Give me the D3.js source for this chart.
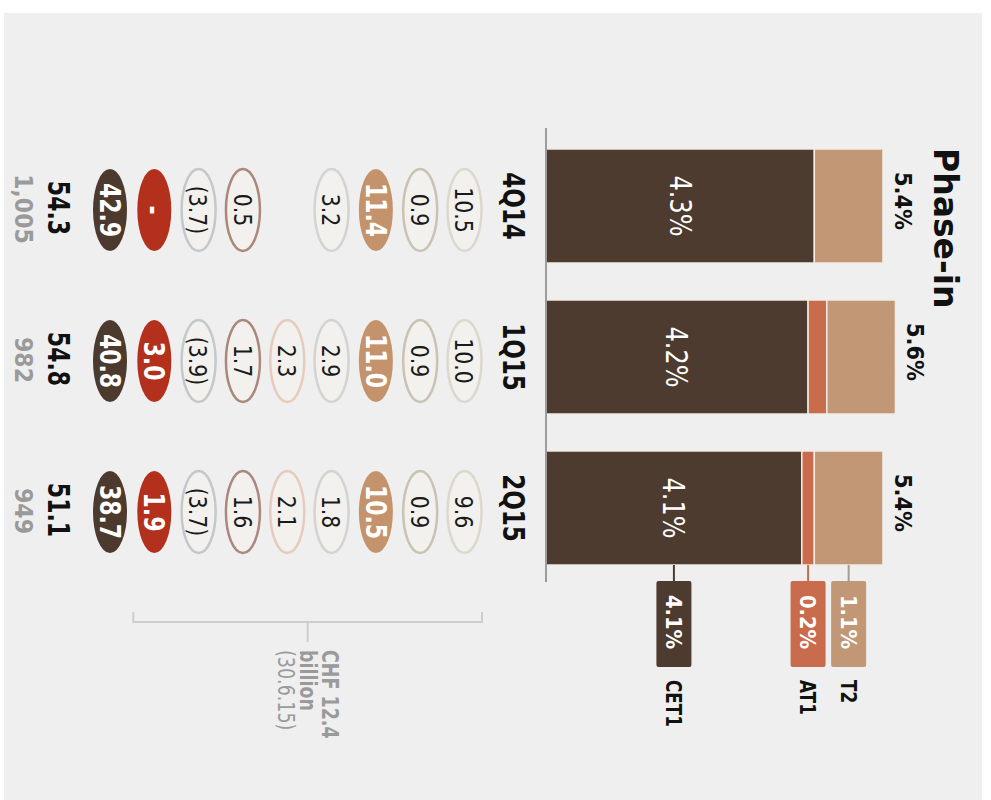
<!DOCTYPE html>
<html><head><meta charset="utf-8">
<script src="https://cdn.jsdelivr.net/npm/d3@7"></script>
<style>html,body{margin:0;padding:0;background:#fff;} svg{display:block;}</style>
</head><body>
<svg id="chart" width="991" height="800"></svg>
<script>
// ---------------- data ----------------
const title = "Phase-in";
const categories = ["4Q14", "1Q15", "2Q15"];
const seriesNames = ["CET1", "AT1", "T2"];
const cet1 = [4.3, 4.2, 4.1];
const at1 = [0.0, 0.3, 0.2];
const t2 = [1.1, 1.1, 1.1];

// table rows (one array per row of ovals, values per quarter)
const rowA = [10.5, 10.0, 9.6];
const rowB = [0.9, 0.9, 0.9];
const rowC = [11.4, 11.0, 10.5];
const rowD = [3.2, 2.9, 1.8];
const rowE = [null, 2.3, 2.1];
const rowF = [0.5, 1.7, 1.6];
const rowG = [-3.7, -3.9, -3.7];
const rowH = ["-", 3.0, 1.9];
const rowI = [42.9, 40.8, 38.7];
const totalsBn = [54.3, 54.8, 51.1];
const exposure = [1005, 982, 949];
const noteLines = ["CHF 12.4", "billion", "(30.6.15)"];

// ---------------- styles ----------------
const FONT = "'DejaVu Sans', Verdana, sans-serif";
const seriesColor = {CET1: "#4d3b2f", AT1: "#c96b4d", T2: "#c19776"};
const connectorColor = {CET1: "#4d3b2f", AT1: "#c96b4d", T2: "#a89a8c"};
const rows = [rowA, rowB, rowC, rowD, rowE, rowF, rowG, rowH, rowI];
const rowStyle = [
  {filled: false, stroke: "#dcd8cd"},
  {filled: false, stroke: "#c9c3b4"},
  {filled: true, fill: "#c4936c"},
  {filled: false, stroke: "#d3d3d3"},
  {filled: false, stroke: "#e6cbbf"},
  {filled: false, stroke: "#ab877c"},
  {filled: false, stroke: "#c5c8cb"},
  {filled: true, fill: "#b3301d"},
  {filled: true, fill: "#4d3a2e"}
];

const svg = d3.select("#chart");
svg.append("rect").attr("x", 4).attr("y", 13).attr("width", 978).attr("height", 787).attr("fill", "#efefef");

// Chart drawn in an unrotated frame (800 wide x 991 tall), then rotated 90deg clockwise
const g = svg.append("g").attr("transform", "translate(991,0) rotate(90)");

function txt(parent, x, y, s, o) {
  return parent.append("text")
    .attr("transform", `translate(${x},${y}) scale(1,${o.k || 1})`)
    .attr("text-anchor", o.anchor || "middle")
    .style("font-family", FONT)
    .style("font-size", o.size + "px")
    .style("font-weight", o.weight || "normal")
    .attr("fill", o.fill || "#111")
    .text(s);
}

// scales
const x = d3.scaleBand().domain(categories).range([130.5, 583.5]).paddingInner(0.245).paddingOuter(0.1225);
const y = d3.scaleLinear().domain([0, 6]).range([445, 445 - 374.4]);
const col = d3.scalePoint().domain(d3.range(rows.length)).range([526.5, 881]);
const bw = x.bandwidth();

const table = categories.map((c, i) => ({cat: c, CET1: cet1[i], AT1: at1[i], T2: t2[i]}));
const stacked = d3.stack().keys(seriesNames)(table);

// bars
stacked.forEach(layer => {
  g.append("g").selectAll("rect").data(layer).join("rect")
    .attr("x", d => x(d.data.cat))
    .attr("width", bw)
    .attr("y", d => y(d[1]))
    .attr("height", d => y(d[0]) - y(d[1]))
    .attr("fill", seriesColor[layer.key])
    .attr("stroke", d => (d[1] - d[0]) > 0 ? "#f1ece5" : "none")
    .attr("stroke-width", 1.5);
});

// baseline axis
g.append("line").attr("x1", 128).attr("x2", 582).attr("y1", y(0)).attr("y2", y(0))
  .attr("stroke", "#9c9c9c").attr("stroke-width", 2);

// title
txt(g, 148, 57, title, {size: 33, weight: "bold", k: 1.0, anchor: "start", fill: "#111"});

// totals above bars
table.forEach(d => {
  const tot = d.CET1 + d.AT1 + d.T2;
  txt(g, x(d.cat) + bw / 2 - 5, y(tot) - 12, d3.format(".1f")(tot) + "%", {size: 21, weight: "bold", k: 1.1});
  // CET1 label inside bar
  const mid = (y(0) + y(d.CET1)) / 2;
  txt(g, x(d.cat) + bw / 2, mid + 0.36 * 24 * 1.22, d3.format(".1f")(d.CET1) + "%", {size: 24, k: 1.22, fill: "#fff"});
});

// legend boxes for the last quarter
const lastIdx = categories.length - 1;
const lastCat = categories[lastIdx];
stacked.forEach(layer => {
  const s = layer[lastIdx];
  const mid = (y(s[0]) + y(s[1])) / 2;
  const bEnd = x(lastCat) + bw;
  g.append("line").attr("x1", bEnd).attr("x2", 582).attr("y1", mid).attr("y2", mid)
    .attr("stroke", connectorColor[layer.key]).attr("stroke-width", 2);
  g.append("rect").attr("x", 581).attr("y", mid - 17.5).attr("width", 86).attr("height", 35)
    .attr("rx", 2).attr("fill", seriesColor[layer.key]);
  txt(g, 622, mid + 0.36 * 19.5 * 1.13, d3.format(".1f")(s[1] - s[0]) + "%", {size: 19.5, weight: "bold", k: 1.13, fill: "#fff"});
  txt(g, 680, mid + 0.36 * 16.8 * 1.3, layer.key, {size: 16.8, weight: "bold", k: 1.3, anchor: "start", fill: "#111"});
});

// category labels
categories.forEach(c => {
  txt(g, x(c) + bw / 2, 488, c, {size: 23, weight: "bold", k: 1.28});
});

// ovals
const fmt = v => typeof v === "string" ? v : (v < 0 ? "(" + d3.format(".1f")(-v) + ")" : d3.format(".1f")(v));
rows.forEach((r, ri) => {
  const st = rowStyle[ri];
  r.forEach((v, ci) => {
    if (v === null) return;
    const cx = x(categories[ci]) + bw / 2 + 4;
    const cy = col(ri);
    g.append("ellipse").attr("cx", cx).attr("cy", cy).attr("rx", 41).attr("ry", 17)
      .attr("fill", st.filled ? st.fill : "#f2f1ee")
      .attr("stroke", st.filled ? "none" : st.stroke)
      .attr("stroke-width", 2.5);
    if (st.filled) {
      txt(g, cx, cy + 0.36 * 22 * 1.25, fmt(v), {size: 22, weight: "bold", k: 1.25, fill: "#fff"});
    } else {
      txt(g, cx, cy + 0.36 * 20.5 * 1.25, fmt(v), {size: 20.5, k: 1.25, fill: "#1a1a1a"});
    }
  });
});

// totals and exposure
categories.forEach((c, i) => {
  txt(g, x(c) + bw / 2 + 2, 943, d3.format(".1f")(totalsBn[i]), {size: 22, weight: "bold", k: 1.35, fill: "#111"});
  txt(g, x(c) + bw / 2 + 3, 976, d3.format(",")(exposure[i]), {size: 22, weight: "bold", k: 1.15, fill: "#9a9a9a"});
});

// bracket with note
const vTop = col(0) - 17.5, vBot = col(7) + 21;
g.append("path")
  .attr("d", `M612,${vTop} L622,${vTop} L622,${vBot} L612,${vBot} M622,${(vTop + vBot) / 2} L642,${(vTop + vBot) / 2}`)
  .attr("fill", "none").attr("stroke", "#cdcdcd").attr("stroke-width", 2);
txt(g, 650, 669, noteLines[0], {size: 17.5, weight: "bold", k: 1.3, anchor: "start", fill: "#9a9a9a"});
txt(g, 650, 691, noteLines[1], {size: 17.5, weight: "bold", k: 1.3, anchor: "start", fill: "#9a9a9a"});
txt(g, 650, 713, noteLines[2], {size: 17.5, k: 1.3, anchor: "start", fill: "#9a9a9a"});
</script>
</body></html>
